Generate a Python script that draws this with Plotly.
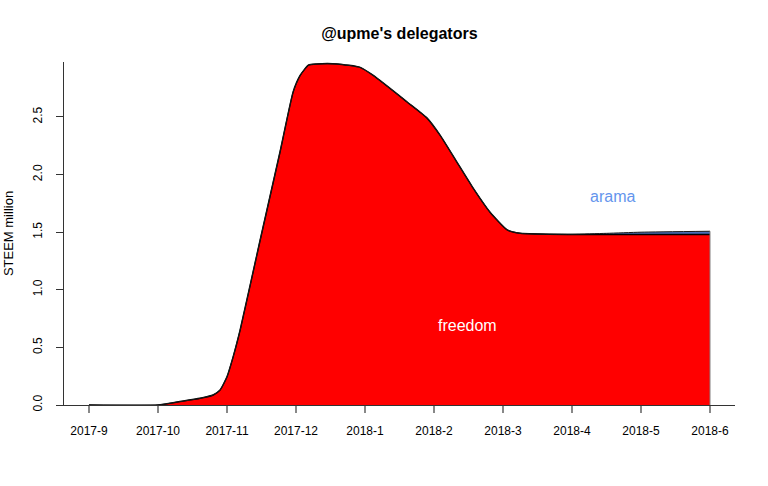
import plotly.graph_objects as go

# month index positions (0 = 2017-9 ... 9 = 2018-6)
tick_labels = ["2017-9", "2017-10", "2017-11", "2017-12", "2018-1",
               "2018-2", "2018-3", "2018-4", "2018-5", "2018-6"]

x_pos = [0, 1, 1.3, 1.61, 1.80, 1.90, 2.0, 2.09, 2.19, 2.48, 2.77, 2.96,
         3.06, 3.18, 3.30, 3.6, 3.93, 4.12, 4.61, 4.9, 5.09, 5.33, 5.57,
         5.81, 6.06, 6.25, 7, 7.5, 8, 9]
freedom = [0, 0, 0.028, 0.058, 0.087, 0.13, 0.245, 0.42, 0.65, 1.43, 2.2,
           2.72, 2.86, 2.95, 2.96, 2.96, 2.93, 2.86, 2.63, 2.49, 2.34, 2.11,
           1.88, 1.675, 1.52, 1.49, 1.48, 1.48, 1.48, 1.48]
arama = [0] * 26 + [0.002, 0.01, 0.02, 0.028]

stack_top = [f + a for f, a in zip(freedom, arama)]

FONT = "Liberation Sans, Arial, Helvetica, sans-serif"

fig = go.Figure()
fig.add_trace(go.Scatter(
    x=x_pos, y=freedom, mode="lines", fill="tozeroy",
    fillcolor="#FF0000", line=dict(color="black", width=1.5, shape="spline", smoothing=0.5),
    hoverinfo="skip", showlegend=False))
fig.add_trace(go.Scatter(
    x=x_pos, y=stack_top, mode="lines", fill="tonexty",
    fillcolor="#4A6FB8", line=dict(color="#1a1a1a", width=1, shape="spline", smoothing=0.5),
    hoverinfo="skip", showlegend=False))
# right edge of the stacked polygon
fig.add_trace(go.Scatter(
    x=[x_pos[-1], x_pos[-1]], y=[0, stack_top[-1]], mode="lines",
    line=dict(color="#888888", width=1), hoverinfo="skip", showlegend=False))

fig.add_annotation(x=5.49, y=0.69, text="freedom", showarrow=False,
                   font=dict(family=FONT, size=16, color="white"))
fig.add_annotation(x=7.59, y=1.81, text="arama", showarrow=False,
                   font=dict(family=FONT, size=16, color="#6495ED"))

fig.update_layout(
    width=768, height=486,
    margin=dict(l=64, r=33, t=62, b=81, autoexpand=False),
    paper_bgcolor="white", plot_bgcolor="white",
    font=dict(family=FONT, size=12, color="black"),
    title=dict(text="<b>@upme's delegators</b>", x=0.52, xanchor="center",
               y=1 - 33 / 486, yanchor="middle",
               font=dict(family=FONT, size=16, color="black")),
    xaxis=dict(range=[-0.362, 9.362], tickmode="array",
               tickvals=list(range(len(tick_labels))), ticktext=tick_labels,
               showgrid=False, zeroline=False, showline=True,
               linecolor="#333333", linewidth=1, ticks="outside",
               ticklen=7, tickcolor="#888888", tickwidth=2,
               ticklabelstandoff=8, tickfont=dict(size=12)),
    yaxis=dict(range=[0, 2.977], tickvals=[0, 0.5, 1, 1.5, 2, 2.5],
               ticktext=["0.0", "0.5", "1.0", "1.5", "2.0", "2.5"],
               showgrid=False, zeroline=False, showline=True,
               linecolor="#333333", linewidth=1, ticks="outside",
               ticklen=7, tickcolor="#333333", tickangle=-90,
               ticklabelstandoff=9,
               title=dict(text="STEEM million", font=dict(size=13), standoff=14),
               tickfont=dict(size=12)),
)

fig.write_html("out.html", config={"displayModeBar": False},
               post_script="document.body.style.margin='0px';")
